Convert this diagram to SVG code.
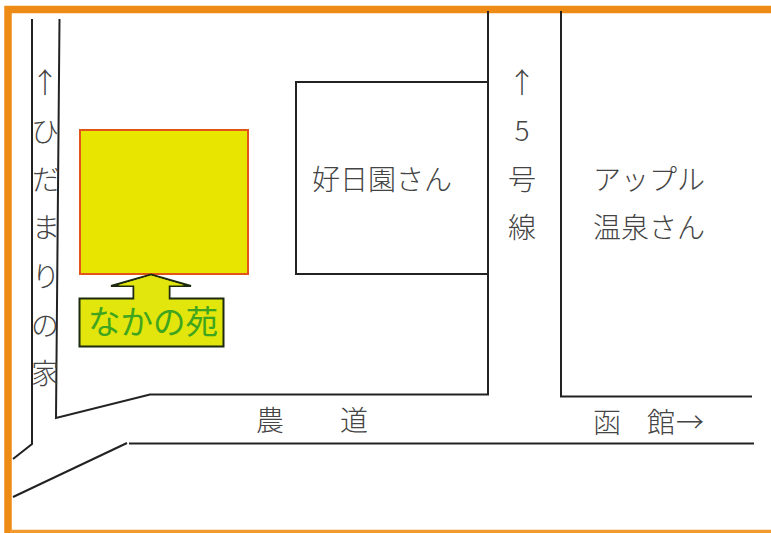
<svg xmlns="http://www.w3.org/2000/svg" width="771" height="533" viewBox="0 0 771 533">
<style>
.road{fill:none;stroke:#222;stroke-width:2}
.t{font-family:"Noto Sans CJK JP","Liberation Serif",sans-serif;font-size:28px;fill:#444;font-weight:300;text-anchor:middle}
</style>
<rect width="771" height="533" fill="#fff"/>
<g id="border"><path d="M771 9.500H8V533" fill="none" stroke="#ee8a16" stroke-width="7.500"/><path d="M10 531.500H771" stroke="#f29a30" stroke-width="3.500" fill="none"/></g>
<g id="connectors">
<path class="road" d="M32 19V444L13 459"/>
<path class="road" d="M59.500 19L56 418L150 394.500H488V11"/>
<path class="road" d="M13 497L127 443"/>
<path class="road" d="M129 443.500H754"/>
<path class="road" d="M561 11V396.500H752"/>
</g>
<g id="site"><rect x="80" y="130" width="168" height="144" fill="#e8e600" stroke="#e2541a" stroke-width="2"/></g>
<g id="nakanoen">
<path d="M79.500 298.500H133.500V286H111L151 274.500L191 286H169.500V298.500H223.500V346.500H79.500Z" fill="#e2e60c" stroke="#1c2a10" stroke-width="2" stroke-linejoin="miter"/>
<path d="M134.500 285H168.500V300H134.500Z" fill="#e2e60c"/>
<path d="M118 285.500L151 275.500L184 285.500Z" fill="#e2e60c"/>
<text x="153" y="334" style="font-family:'Noto Sans CJK JP',sans-serif;font-size:32.500px;fill:#3fa51e;text-anchor:middle">なかの苑</text>
</g>
<g id="koujitsuen"><rect x="296" y="82" width="192" height="192" fill="#fff" stroke="#222" stroke-width="2"/><text class="t" x="382" y="190">好日園さん</text></g>
<g id="apple"><text class="t" x="649" y="190">アップル</text><text class="t" x="649" y="238">温泉さん</text></g>
<g id="labels">
<text class="t" x="45" y="93">↑</text>
<text class="t" x="45" y="142">ひ</text>
<text class="t" x="46" y="190">だ</text>
<text class="t" x="46" y="238">ま</text>
<text class="t" x="46" y="287">り</text>
<text class="t" x="45" y="336">の</text>
<text class="t" x="45" y="384">家</text>
<text class="t" x="522" y="93">↑</text>
<text class="t" x="522" y="141">5</text>
<text class="t" x="522" y="190">号</text>
<text class="t" x="522" y="238">線</text>
<text class="t" x="270" y="431">農</text>
<text class="t" x="354" y="431">道</text>
<text class="t" x="607" y="433">函</text>
<text class="t" x="661" y="433">館</text>
<text class="t" x="690" y="433">→</text>
</g>
</svg>
